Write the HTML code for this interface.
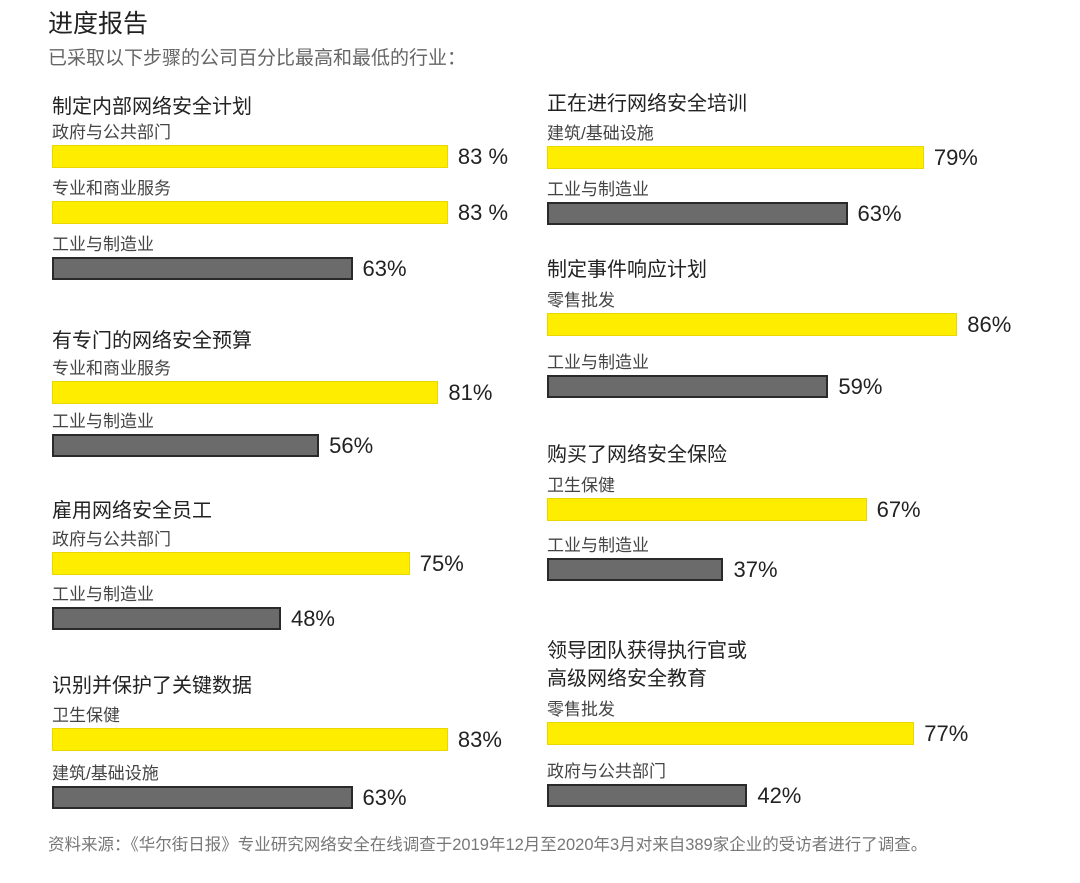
<!DOCTYPE html>
<html><head><meta charset="utf-8"><style>
body{margin:0;background:#fff;}
#c{position:relative;width:1080px;height:883px;overflow:hidden;font-family:"Liberation Sans","Noto Sans CJK SC",sans-serif;color:#222;}
.t{position:absolute;white-space:nowrap;}
.bar{position:absolute;box-sizing:border-box;}
.y{background:#ffed00;border:1px solid #e8d800;}
.g{background:#6b6b6b;border:2px solid #2a2a2a;}
</style></head><body>
<div id="c">
<div class="t" style="left:48px;top:10px;font-size:25px;line-height:28px;color:#222">进度报告</div>
<div class="t" style="left:48px;top:48px;font-size:19px;line-height:22px;color:#666">已采取以下步骤的公司百分比最高和最低的行业：</div>
<div class="t" style="left:48px;top:835px;font-size:16.5px;line-height:20px;color:#777">资料来源：《华尔街日报》专业研究网络安全在线调查于2019年12月至2020年3月对来自389家企业的受访者进行了调查。</div>
</div>
<script>
const groupTitles=["制定内部网络安全计划","有专门的网络安全预算","雇用网络安全员工","识别并保护了关键数据","正在进行网络安全培训","制定事件响应计划","购买了网络安全保险","领导团队获得执行官或\n高级网络安全教育"];
const categories=[["政府与公共部门","专业和商业服务","工业与制造业"],["专业和商业服务","工业与制造业"],["政府与公共部门","工业与制造业"],["卫生保健","建筑/基础设施"],["建筑/基础设施","工业与制造业"],["零售批发","工业与制造业"],["卫生保健","工业与制造业"],["零售批发","政府与公共部门"]];
const values=[[83,83,63],[81,56],[75,48],[83,63],[79,63],[86,59],[67,37],[77,42]];
const valueLabels=[["83 %","83 %","63%"],["81%","56%"],["75%","48%"],["83%","63%"],["79%","63%"],["86%","59%"],["67%","37%"],["77%","42%"]];
const highlight=[[1,1,0],[1,0],[1,0],[1,0],[1,0],[1,0],[1,0],[1,0]];
// layout
const colX=[52,547];
const groupCol=[0,0,0,0,1,1,1,1];
const titleY=[107,341,511,686,104,270,455,651];
const barTops=[[145,201,257],[381,434],[552,607],[728,786],[146,202],[313,375],[498,558],[722,784]];
const scale=4.77;
const xw=v=>v*scale;
const c=document.getElementById('c');
function txt(x,cy,s,size,color){const d=document.createElement('div');d.className='t';d.style.left=x+'px';d.style.top=(cy-size*0.6)+'px';d.style.fontSize=size+'px';d.style.lineHeight=(size*1.2)+'px';d.style.color=color;d.textContent=s;c.appendChild(d);return d;}
groupTitles.forEach((gt,i)=>{
  const x=colX[groupCol[i]];
  gt.split('\n').forEach((line,k)=>{
    const d=txt(x,titleY[i]+k*28,line,20,'#222');
    
    
  });
  values[i].forEach((v,j)=>{
    const top=barTops[i][j];
    const l=txt(x,top-12,categories[i][j],17,'#444');
    
    
    const b=document.createElement('div');
    b.className='bar '+(highlight[i][j]?'y':'g');
    b.style.left=x+'px';b.style.top=top+'px';b.style.width=xw(v)+'px';b.style.height='23px';
    
    
    c.appendChild(b);
    const p=txt(x+xw(v)+10,top+12,valueLabels[i][j],22,'#222');
    
    
  });
});
</script>
</body></html>
